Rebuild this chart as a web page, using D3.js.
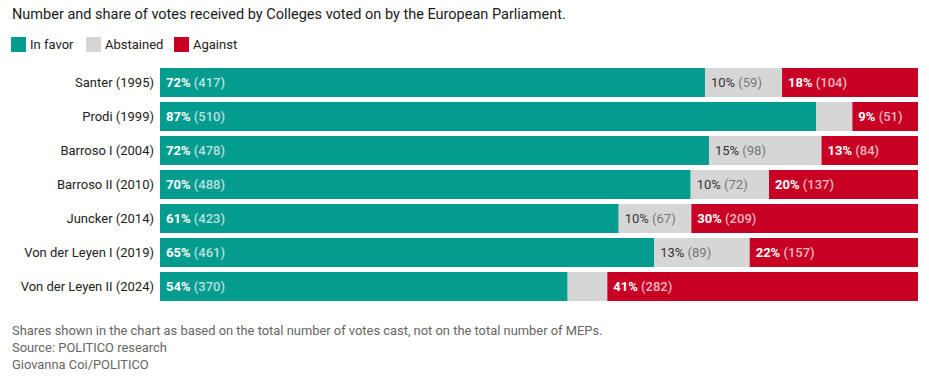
<!DOCTYPE html>
<html><head><meta charset="utf-8">
<script src="https://cdn.jsdelivr.net/npm/d3@7"></script>
<style>
html,body{margin:0;padding:0;background:#fff;}
svg{display:block;font-family:Roboto, "Noto Sans", sans-serif;}
</style></head>
<body>
<svg id="c" width="929" height="378"></svg>
<script>
const categories = ["Santer (1995)","Prodi (1999)","Barroso I (2004)","Barroso II (2010)","Juncker (2014)","Von der Leyen I (2019)","Von der Leyen II (2024)"];
const inFavor   = [417, 510, 478, 488, 423, 461, 370];
const abstained = [59, 28, 98, 72, 67, 89, 36];
const against   = [104, 51, 84, 137, 209, 157, 282];
const seriesNames = ["In favor","Abstained","Against"];
const colors = ["#039c8f","#d6d6d6","#c70024"];
const title = "Number and share of votes received by Colleges voted on by the European Parliament.";
const notes = ["Shares shown in the chart as based on the total number of votes cast, not on the total number of MEPs.","Source: POLITICO research","Giovanna Coi/POLITICO"];

const svg = d3.select("#c");
const values = [inFavor, abstained, against];

svg.append("text").attr("x",12).attr("y",19).attr("font-size",14.5).attr("fill","#1a1a1a").text(title);

// legend
const lx = [11, 86, 174];
seriesNames.forEach((n,i)=>{
  svg.append("rect").attr("x",lx[i]).attr("y",37).attr("width",15).attr("height",15).attr("fill",colors[i]);
  svg.append("text").attr("x",lx[i]+19).attr("y",49).attr("font-size",13).attr("fill","#222").text(n);
});

const x = d3.scaleLinear().domain([0,1]).range([160,918]);
const y = d3.scaleBand().domain(categories).range([68,301]).paddingInner(5/34).paddingOuter(0);

const rows = categories.map((c,i)=>{
  const total = inFavor[i]+abstained[i]+against[i];
  let cum = 0;
  const segs = values.map((arr,k)=>{
    const s = {cat:c,k, v:arr[i], share:arr[i]/total, x0:cum/total};
    cum += arr[i]; s.x1 = cum/total; return s;
  });
  return segs;
});

const g = svg.append("g");
rows.forEach(segs=>{
  segs.forEach(s=>{
    g.append("rect").attr("x",x(s.x0)).attr("y",y(s.cat)).attr("width",x(s.x1)-x(s.x0)).attr("height",y.bandwidth()).attr("fill",colors[s.k]);
    const w = x(s.x1)-x(s.x0);
    if (w > 50) {
      const t = g.append("text").attr("x",x(s.x0)+6).attr("y",y(s.cat)+y.bandwidth()/2).attr("dy","0.36em").attr("font-size",13);
      const light = s.k!==1;
      t.append("tspan").attr("font-weight", light?700:400).attr("fill", light?"#fff":"#333").text(Math.round(s.share*100)+"%");
      t.append("tspan").attr("fill", light?"rgba(255,255,255,0.72)":"#777").attr("font-weight", light?500:400).text(" ("+s.v+")");
    }
  });
});

// category axis
const ax = svg.append("g").attr("transform","translate(154,0)").call(d3.axisLeft(y).tickSize(0).tickPadding(0));
ax.select(".domain").remove();
ax.selectAll("text").attr("font-size",13).attr("fill","#222").attr("font-family","Roboto, sans-serif");

notes.forEach((n,i)=>{
  svg.append("text").attr("x",12).attr("y",335+i*17).attr("font-size",12.9).attr("fill","#666").text(n);
});
</script>
</body></html>
